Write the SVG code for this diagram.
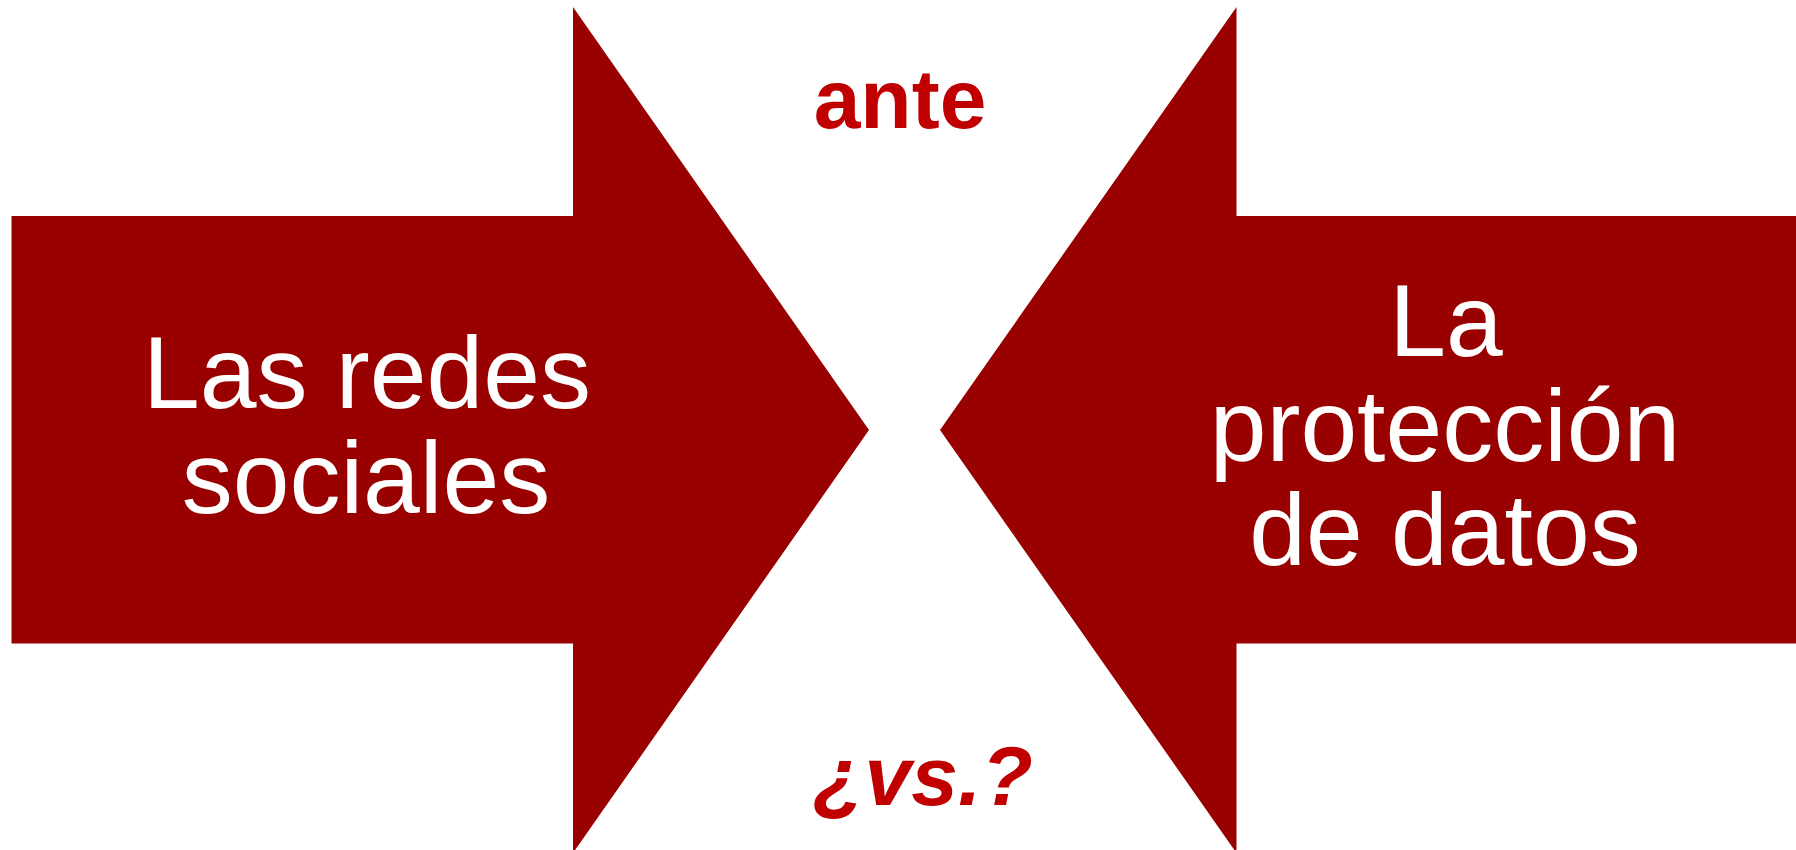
<svg xmlns="http://www.w3.org/2000/svg" width="1796" height="850" viewBox="0 0 1796 850">
  <style>
    .arrow { fill: #990000; stroke: none; }
    .inner { font-family: "Liberation Sans", Arial, sans-serif; font-size: 102px; fill: #ffffff; text-anchor: middle; }
    .label { font-family: "Liberation Sans", Arial, sans-serif; font-size: 84px; font-weight: bold; fill: #C00000; text-anchor: middle; }
  </style>
  <rect width="1796" height="850" fill="#ffffff"/>
  <g id="node-redes">
    <polygon class="arrow" points="11.5,216 573,216 573,7 869,430 573,853 573,643.5 11.5,643.5"/>
    <text class="inner" x="367" y="408">Las redes</text>
    <text class="inner" x="366" y="513">sociales</text>
  </g>
  <g id="node-proteccion">
    <polygon class="arrow" points="1796,216 1236.5,216 1236.5,7 940,430 1236.5,853 1236.5,643.5 1796,643.5"/>
    <text class="inner" x="1446" y="356">La</text>
    <text class="inner" x="1445" y="461">protección</text>
    <text class="inner" x="1445" y="565">de datos</text>
  </g>
  <g id="connectors">
    <text class="label" x="900" y="128">ante</text>
    <text class="label" x="923" y="805" font-style="italic">¿vs.?</text>
  </g>
</svg>
